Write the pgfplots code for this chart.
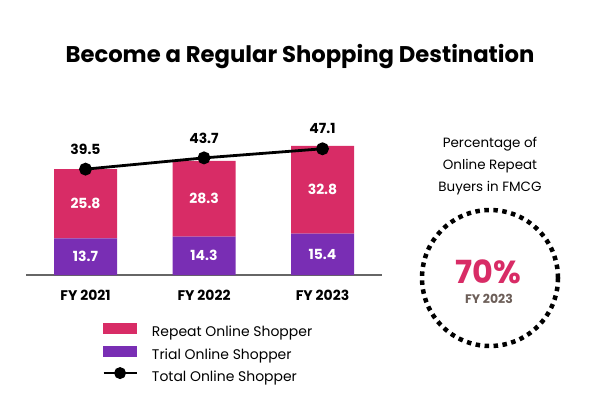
\documentclass[border=0pt]{standalone}
\usepackage{pgfplots}
\pgfplotsset{compat=1.18}
\usepackage{fontspec}
\setmainfont{Poppins}
\definecolor{repeatpink}{RGB}{216,44,102}
\definecolor{trialpurple}{RGB}{121,46,180}
\definecolor{fytext}{RGB}{108,94,88}
\newcommand{\fs}[1]{\fontsize{#1}{#1}\selectfont}

\begin{document}
\begin{tikzpicture}[x=1bp,y=1bp]
\path[use as bounding box] (0,0) rectangle (616,406);
\node[font=\bfseries\fs{22.8}] at (300,349) {Become a Regular Shopping Destination};

\pgfplotsset{shopgeom/.style={at={(26.25bp,131bp)}, anchor=south west, scale only axis,
  width=355.5bp, height=134bp, xmin=-0.5, xmax=2.5, ymin=0, ymax=50, clip=false}}

% stacked bars
\begin{axis}[shopgeom, ybar stacked, bar width=63bp,
  axis x line=bottom, axis y line=none,
  x axis line style={draw=black!60, line width=1.2bp, -},
  xtick={0,1,2}, xticklabels={FY 2021,FY 2022,FY 2023}, major tick length=0,
  xticklabel style={font=\bfseries\fs{14}, yshift=-12bp}]
\addplot[fill=trialpurple, draw=none] coordinates {(0,13.7) (1,14.3) (2,15.4)};
\addplot[fill=repeatpink, draw=none] coordinates {(0,25.8) (1,28.3) (2,32.8)};
\end{axis}

% total line, value labels, legend
\begin{axis}[shopgeom, hide axis,
  legend style={at={(0.213,-0.358)}, anchor=north west, draw=none, fill=none,
    inner sep=0pt, row sep=6bp, font=\fs{14},
    nodes={inner sep=0pt, text height=10bp, text depth=3bp},
    /tikz/every odd column/.append style={column sep=14bp}},
  legend cell align=left]
\addlegendimage{legend image code/.code={\fill[repeatpink] (0bp,0bp) rectangle (33bp,10bp);}}
\addlegendentry{Repeat Online Shopper}
\addlegendimage{legend image code/.code={\fill[trialpurple] (0bp,0bp) rectangle (33bp,10bp);}}
\addlegendentry{Trial Online Shopper}
\addplot[forget plot, draw=none, mark=none, nodes near coords, point meta=explicit symbolic,
  every node near coord/.append style={font=\bfseries\fs{14}, text=white, anchor=center}]
  coordinates {(0,6.85)[13.7] (1,7.15)[14.3] (2,7.7)[15.4]
               (0,26.6)[25.8] (1,28.45)[28.3] (2,31.8)[32.8]};
\addplot[black, line width=2.8bp, mark=*, mark size=5bp, nodes near coords,
  point meta=explicit symbolic,
  every node near coord/.append style={font=\bfseries\fs{14}, text=black, anchor=center, yshift=20bp},
  legend image code/.code={\draw[black, line width=2.8bp, mark=*, mark repeat=2, mark phase=2, mark size=4.5bp]
    plot coordinates {(0bp,5bp) (16.5bp,5bp) (33bp,5bp)};}]
  coordinates {(0,39.5)[39.5] (1,43.7)[43.7] (2,47.1)[47.1]};
\addlegendentry{Total Online Shopper}
\end{axis}

% side panel
\node[font=\fontsize{13.5}{22}\selectfont, align=center] at (490,240) {Percentage of\\Online Repeat\\Buyers in FMCG};
\draw[line width=4.5bp, dash pattern=on 4.5bp off 4.5bp] (490,128) circle (68);
\node[font=\bfseries\fs{32}, text=repeatpink] at (488,134) {70\%};
\node[font=\bfseries\fs{12.5}, text=fytext] at (489,107) {FY 2023};
\end{tikzpicture}
\end{document}
